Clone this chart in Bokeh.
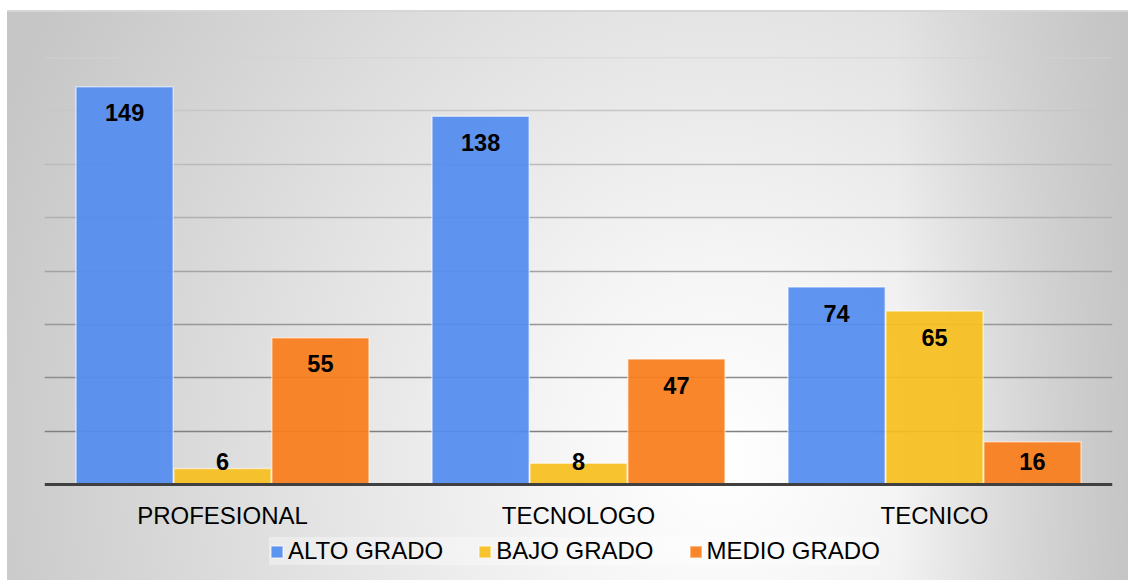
from bokeh.plotting import figure, ColumnDataSource
from bokeh.models import FactorRange, Range1d
from bokeh.transform import dodge
from bokeh.core.properties import value
from bokeh.embed import file_html
from bokeh.resources import INLINE

categories = ["PROFESIONAL", "TECNOLOGO", "TECNICO"]
series_names = ["ALTO GRADO", "BAJO GRADO", "MEDIO GRADO"]
alto_grado = [149, 138, 74]
bajo_grado = [6, 8, 65]
medio_grado = [55, 47, 16]
y_ticks = [20, 40, 60, 80, 100, 120, 140, 160]

series_values = [alto_grado, bajo_grado, medio_grado]
series_colors = ["#548cf0", "#f6bf20", "#fa7d1c"]
offsets = [-0.275, 0.0, 0.275]

W, H = 1128, 580
BL, BR, BT = 44, 16, 57
AXIS_PX = 484          # pixel row of the zero line
y_max = 160
ppu = (AXIS_PX - BT) / y_max
y_min = -(H - AXIS_PX) / ppu   # frame extends to the bottom so the legend is inside

FONT = "Liberation Sans"

p = figure(width=W, height=H, x_range=FactorRange(*categories, range_padding=0),
           y_range=Range1d(y_min, y_max), output_backend="svg", toolbar_location=None,
           min_border_left=BL, min_border_right=BR, min_border_top=BT, min_border_bottom=0)
p.x_range.range_padding = 0
p.background_fill_alpha = 0
p.border_fill_alpha = 0
p.outline_line_color = None
p.styles = {
    "background": (
        "linear-gradient(#ffffff,#ffffff) 0 0 / 7px 100% no-repeat, "
        "linear-gradient(#ffffff,#ffffff) 0 0 / 100% 10px no-repeat, "
        "linear-gradient(#d6d6d6,#d6d6d6) 0 10px / 100% 2px no-repeat, "
        "linear-gradient(to left, rgba(192,192,192,0.85) 0px, rgba(192,192,192,0) 230px), "
        "radial-gradient(ellipse 780px 880px at 720px 460px, #ffffff 0%, #f5f5f5 22%, #e0e0e0 58%, #c6c6c6 100%)"
    )
}

# gridlines (darker toward the bottom)
grid_colors = []
for t in y_ticks:
    c = int(round(128 + (t - 20) / 140 * 82))
    grid_colors.append("#%02x%02x%02x" % (c, c, c))
p.hspan(y=y_ticks, line_color=grid_colors, line_width=1.5)
p.ygrid.grid_line_color = None
p.xgrid.grid_line_color = None
p.yaxis.visible = False

for name, vals, col, off in zip(series_names, series_values, series_colors, offsets):
    label_y = [max(v - 26 / ppu, 23 / ppu) for v in vals]
    src = ColumnDataSource(dict(cat=categories, val=vals, ly=label_y, txt=[str(v) for v in vals]))
    p.vbar(x=dodge("cat", off, range=p.x_range), top="val", bottom=0, width=0.273, source=src,
           fill_color=col, fill_alpha=0.93, line_color="#ffffff", line_alpha=0.55, line_width=1.5,
           legend_label=name)
    p.text(x=dodge("cat", off, range=p.x_range), y="ly", text="txt", source=src,
           text_align="center", text_baseline="middle", text_font=value(FONT),
           text_font_size="23.5px", text_font_style="bold", text_color="#000000")

ax = p.xaxis[0]
ax.fixed_location = 0
ax.axis_line_color = "#404040"
ax.axis_line_width = 3
ax.major_tick_line_color = None
ax.minor_tick_line_color = None
ax.major_label_text_font = FONT
ax.major_label_text_font_size = "24px"
ax.major_label_text_color = "#000000"
ax.major_label_standoff = 11

leg = p.legend[0]
leg.orientation = "horizontal"
leg.location = (225, 15)
leg.padding = 8
leg.margin = 0
leg.spacing = 34
leg.label_standoff = 4
leg.label_height = 27
leg.glyph_width = 15
leg.glyph_height = 15
leg.label_text_font = FONT
leg.label_text_font_size = "24px"
leg.label_text_color = "#000000"
leg.background_fill_color = "#ffffff"
leg.background_fill_alpha = 0.35
leg.border_line_color = None

open("out.html", "w").write(file_html(p, INLINE))
